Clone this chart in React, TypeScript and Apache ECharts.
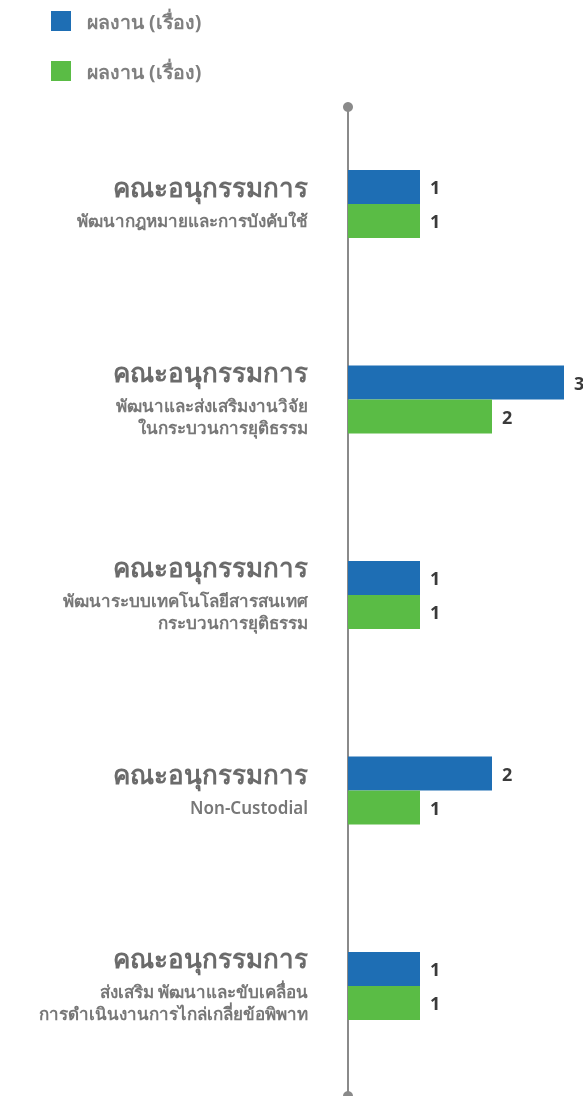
import React, { useEffect, useRef } from "react";
import * as echarts from "echarts";

const legendLabels = ["ผลงาน (เรื่อง)", "ผลงาน (เรื่อง)"];
const titles = ["คณะอนุกรรมการ", "คณะอนุกรรมการ", "คณะอนุกรรมการ", "คณะอนุกรรมการ", "คณะอนุกรรมการ"];
const subtitles: string[][] = [
  ["พัฒนากฎหมายและการบังคับใช้"],
  ["พัฒนาและส่งเสริมงานวิจัย", "ในกระบวนการยุติธรรม"],
  ["พัฒนาระบบเทคโนโลยีสารสนเทศ", "กระบวนการยุติธรรม"],
  ["Non-Custodial"],
  ["ส่งเสริม พัฒนาและขับเคลื่อน", "การดำเนินงานการไกล่เกลี่ยข้อพิพาท"],
];
const categories = ["c1", "c2", "c3", "c4", "c5"];
const blueValues = [1, 3, 1, 2, 1];
const greenValues = [1, 2, 1, 1, 1];

const FONT = "'Noto Sans', sans-serif";

export default function App() {
  const ref = useRef<HTMLDivElement>(null);
  useEffect(() => {
    if (!ref.current) return;
    const chart = echarts.init(ref.current, undefined, { renderer: "svg" });
    const labelFmt = (_v: string, idx: number) => {
      const lines = [`{t|${titles[idx]}}`, `{g| }`];
      subtitles[idx].forEach((s) => lines.push(`{s|${s}}`));
      return lines.join("\n");
    };
    const valueLabel = {
      show: true,
      position: "right",
      distance: 10,
      color: "#3a3a3a",
      fontSize: 18,
      fontWeight: "bold",
      fontFamily: FONT,
    };
    chart.setOption({
      animation: false,
      legend: {
        orient: "vertical",
        left: 46,
        top: 6,
        itemWidth: 20,
        itemHeight: 20,
        itemGap: 30,
        icon: "rect",
        selectedMode: false,
        data: ["s1", "s2"],
        formatter: (name: string) => (name === "s1" ? legendLabels[0] : legendLabels[1]),
        textStyle: {
          color: "#7f7f7f",
          fontSize: 19.5,
          fontWeight: "bold",
          fontFamily: FONT,
          padding: [0, 0, 0, 11],
        },
      },
      grid: [
        { left: 348, top: 106.25, height: 977.5, width: 216 },
        { left: 348, top: 107, height: 990, width: 216 },
      ],
      xAxis: [
        { type: "value", gridIndex: 0, min: 0, max: 3, show: false },
        { type: "value", gridIndex: 1, min: 0, max: 1, show: false },
      ],
      yAxis: [
        {
          type: "category",
          gridIndex: 0,
          inverse: true,
          data: categories,
          axisLine: { show: false },
          axisTick: { show: false },
          axisLabel: {
            margin: 40,
            formatter: labelFmt,
            rich: {
              t: {
                fontSize: 26,
                lineHeight: 21,
                color: "#6b6b6b",
                fontWeight: 600,
                fontFamily: FONT,
                align: "right",
              },
              g: { fontSize: 4, lineHeight: 12, align: "right" },
              s: {
                fontSize: 17,
                lineHeight: 22,
                color: "#777777",
                fontWeight: 600,
                fontFamily: FONT,
                align: "right",
              },
            },
          },
        },
        {
          type: "value",
          gridIndex: 1,
          min: 0,
          max: 1,
          axisLine: {
            show: true,
            symbol: ["circle", "circle"],
            symbolSize: [10, 10],
            lineStyle: { color: "#8a8a8a", width: 2 },
          },
          axisTick: { show: false },
          axisLabel: { show: false },
          splitLine: { show: false },
        },
      ],
      series: [
        {
          name: "s1",
          type: "bar",
          xAxisIndex: 0,
          yAxisIndex: 0,
          data: blueValues,
          barWidth: 34,
          barGap: "0%",
          itemStyle: { color: "#1e6eb4" },
          label: valueLabel,
        },
        {
          name: "s2",
          type: "bar",
          xAxisIndex: 0,
          yAxisIndex: 0,
          data: greenValues,
          barWidth: 34,
          barGap: "0%",
          itemStyle: { color: "#5abc45" },
          label: valueLabel,
        },
      ],
    });
    return () => chart.dispose();
  }, []);
  return (
    <div
      ref={ref}
      style={{ position: "fixed", left: 0, top: 0, width: 583, height: 1096 }}
    />
  );
}
